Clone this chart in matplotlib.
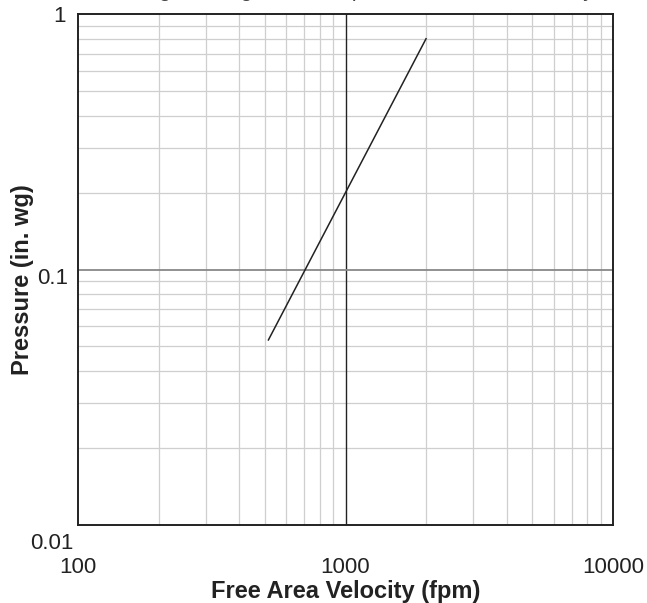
import matplotlib.pyplot as plt
import matplotlib.ticker as mticker

plt.rcParams['font.family'] = ['Liberation Sans', 'DejaVu Sans']

# datos de la curva (velocidad vs presion)
velocidad = [515, 1000, 2000]
presion = [0.053, 0.2, 0.8]

x_ticks = [100, 1000, 10000]
x_labels = ['100', '1000', '10000']
y_ticks = [0.01, 0.1, 1]
y_labels = ['0.01', '0.1', '1']

fig = plt.figure(figsize=(6.47, 6.03), dpi=100)
ax = fig.add_axes([78 / 647, 78 / 603, 535 / 647, 511 / 603])

ax.set_xscale('log')
ax.set_yscale('log')
ax.set_xlim(100, 10000)
ax.set_ylim(0.01, 1)

# rejilla
ax.xaxis.set_minor_locator(mticker.LogLocator(base=10, subs=range(2, 10)))
ax.yaxis.set_minor_locator(mticker.LogLocator(base=10, subs=range(2, 10)))
ax.grid(which='minor', color='#cfcfcf', linewidth=0.9)
ax.axvline(1000, color='#222222', linewidth=1.0)
ax.axhline(0.1, color='#888888', linewidth=1.3)

ax.plot(velocidad, presion, color='#222222', linewidth=1.1)

ax.set_xticks(x_ticks)
ax.set_xticklabels(x_labels)
ax.set_yticks([])
ax.xaxis.set_minor_formatter(mticker.NullFormatter())
ax.yaxis.set_minor_formatter(mticker.NullFormatter())
ax.tick_params(which='both', length=0, labelsize=16, colors='#222222')
ax.tick_params(axis='x', pad=23)

# etiquetas del eje y (desplazadas como en el original)
desplaz = [(-3, -13), (-7, -6.5), (-9, -2)]
for val, lab, (dx, dy) in zip(y_ticks, y_labels, desplaz):
    ax.annotate(lab, xy=(100, val), xycoords='data', xytext=(dx, dy),
                textcoords='offset points', ha='right', va='center',
                fontsize=16, color='#222222', annotation_clip=False)

for s in ax.spines.values():
    s.set_linewidth(1.4)
    s.set_color('#222222')

ax.set_xlabel('Free Area Velocity (fpm)', fontsize=17, fontweight='bold',
              color='#222222', labelpad=1.5)
ax.set_ylabel('Pressure (in. wg)', fontsize=17, fontweight='bold',
              color='#222222')
ax.yaxis.set_label_coords(-0.083, 0.481)

# titulo cortado en la parte superior
fig.text(346 / 647, 1 + 4 / 603, 'Leakage through the damper vs. free area velocity',
         ha='center', va='baseline', fontsize=16, color='#444444')

plt.savefig('out.png', dpi=100)
plt.close()
